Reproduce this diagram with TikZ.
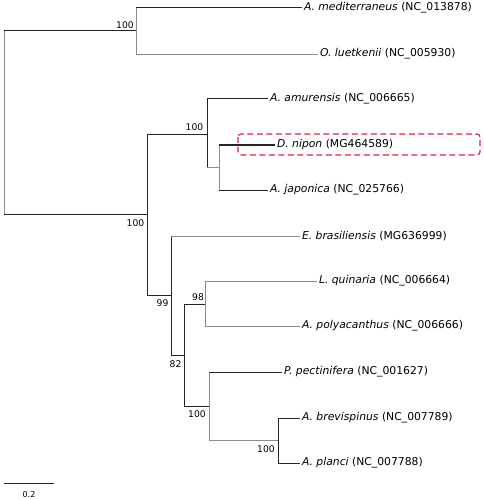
\documentclass[tikz,border=0pt]{standalone}
\usepackage{fontspec}
\setmainfont{DejaVu Sans}
\usetikzlibrary{calc}
\definecolor{boxred}{RGB}{222,32,56}

\begin{document}
\begin{tikzpicture}[x=1pt, y=-1pt,
    dk/.style={draw, black!85, line width=1pt},
    lt/.style={draw, black!45, line width=0.8pt},
    leaf/.style={anchor=west, inner xsep=2pt, inner ysep=0pt, outer sep=0pt, font=\fontsize{10.8}{12}\selectfont},
    boot/.style={inner sep=0pt, font=\fontsize{9.2}{10}\selectfont}]
    \useasboundingbox(0,0)rectangle(483,500);

    % internal nodes
    \coordinate(R)at(4,122.5);
    \coordinate(T)at(136,31);
    \coordinate(B)at(147,214);
    \coordinate(Am)at(207,134);
    \coordinate(J)at(219,167);
    \coordinate(Eb)at(171,295);
    \coordinate(Q)at(184,355);
    \coordinate(P98)at(205,304);
    \coordinate(P100)at(209,406);
    \coordinate(Ac)at(278,440);

    % leaves
    \node[leaf](med)at(302,8){\textit{A. mediterraneus} (NC\_013878)};
    \node[leaf](lue)at(318,54){\textit{O. luetkenii} (NC\_005930)};
    \node[leaf](amu)at(268,99){\textit{A. amurensis} (NC\_006665)};
    \node[leaf](nip)at(275,145){\textit{D. nipon} (MG464589)};
    \node[leaf](jap)at(268,190){\textit{A. japonica} (NC\_025766)};
    \node[leaf](bra)at(300,236){\textit{E. brasiliensis} (MG636999)};
    \node[leaf](qui)at(317,281){\textit{L. quinaria} (NC\_006664)};
    \node[leaf](pol)at(300,326){\textit{A. polyacanthus} (NC\_006666)};
    \node[leaf](pec)at(282,372){\textit{P. pectinifera} (NC\_001627)};
    \node[leaf](bre)at(300,418){\textit{A. brevispinus} (NC\_007789)};
    \node[leaf](pla)at(300,463){\textit{A. planci} (NC\_007788)};

    % root
    \path[lt](R|-T)to(R|-B);
    \path[dk](R|-T)to(T);
    \path[dk](R|-B)to(B);

    % upper clade
    \path[lt](T|-med.west)to(T|-lue.west);
    \path[dk](T|-med.west)to(med.west);
    \path[lt](T|-lue.west)to(lue.west);

    % lower clade
    \path[dk](B|-Am)to(B|-Eb);
    \path[dk](B|-Am)to(Am);
    \path[dk](B|-Eb)to(Eb);

    \path[dk](Am|-amu.west)to(Am|-J);
    \path[dk](Am|-amu.west)to(amu.west);
    \path[lt](Am|-J)to(J);

    \path[lt](J|-nip.west)to(J|-jap.west);
    \path[dk, line width=1.5pt](J|-nip.west)to(nip.west);
    \path[dk](J|-jap.west)to(jap.west);

    \path[dk](Eb|-bra.west)to(Eb|-Q);
    \path[lt](Eb|-bra.west)to(bra.west);
    \path[dk](Eb|-Q)to(Q);

    \path[dk](Q|-P98)to(Q|-P100);
    \path[dk](Q|-P98)to(P98);
    \path[dk](Q|-P100)to(P100);

    \path[lt](P98|-qui.west)to(P98|-pol.west);
    \path[lt](P98|-qui.west)to(qui.west);
    \path[lt](P98|-pol.west)to(pol.west);

    \path[lt](P100|-pec.west)to(P100|-Ac);
    \path[dk](P100|-pec.west)to(pec.west);
    \path[lt](P100|-Ac)to(Ac);

    \path[dk](Ac|-bre.west)to(Ac|-pla.west);
    \path[dk](Ac|-bre.west)to(bre.west);
    \path[dk](Ac|-pla.west)to(pla.west);

    % bootstrap values
    \node[boot](bT)at($(T)+(-11,-6)$){100};
    \node[boot](bAm)at($(Am)+(-12.5,-7)$){100};
    \node[boot](bB)at($(B)+(-11.5,9)$){100};
    \node[boot](bEb)at($(Eb)+(-8.5,8)$){99};
    \node[boot](bP98)at($(P98)+(-7,-7)$){98};
    \node[boot](bQ)at($(Q)+(-8.5,9)$){82};
    \node[boot](bP100)at($(P100)+(-12,8)$){100};
    \node[boot](bAc)at($(Ac)+(-12,9)$){100};

    % D. nipon highlight
    \path[draw=boxred, line width=1.1pt, dash pattern=on 6pt off 3.5pt, rounded corners=3pt](238,134)rectangle(480,155);

    % scale bar
    \coordinate(s0)at(4,483);
    \coordinate(s1)at(54,483);
    \path[dk](s0)to(s1);
    \node[inner sep=0pt, font=\fontsize{8}{9}\selectfont](sl)at(29,495){0.2};
\end{tikzpicture}
\end{document}
